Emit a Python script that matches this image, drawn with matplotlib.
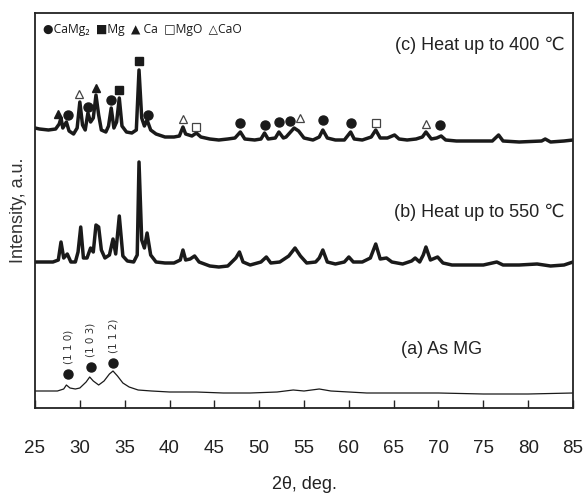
import matplotlib.pyplot as plt

# XRD patterns, 2theta (deg) vs intensity (a.u.), each pattern relative to its own baseline
two_theta_a = [25.0, 26.5, 27.5, 28.2, 28.5, 28.9, 29.5, 30.0, 30.7, 31.1, 31.5, 32.1, 32.7, 33.3,
               33.7, 34.2, 34.8, 35.5, 36.5, 38.0, 40.0, 43.0, 46.0, 49.0, 52.0, 53.8, 55.0, 56.7,
               58.0, 60.0, 62.0, 66.0, 70.0, 75.0, 80.0, 85.0]
intensity_a = [2, 2, 2, 4, 8, 5, 4, 5, 11, 16, 12, 8, 12, 19,
               22, 17, 10, 6, 3, 2, 1, 1, 0, 0, 1, 3, 2, 4,
               2, 1, 0, 0, 0, -1, -1, 0]

two_theta_b = [25.0, 26.0, 27.0, 27.6, 27.9, 28.2, 28.6, 29.0, 29.5, 29.8, 30.1, 30.4, 30.8, 31.2,
               31.5, 31.8, 32.1, 32.4, 32.8, 33.3, 33.7, 34.0, 34.4, 34.8, 35.3, 36.0, 36.4, 36.6,
               36.9, 37.2, 37.5, 37.9, 38.5, 39.5, 40.5, 41.2, 41.5, 41.8, 42.3, 42.8, 43.3, 44.5,
               45.5, 46.5, 47.4, 47.8, 48.2, 49.0, 50.2, 50.8, 51.3, 52.3, 53.3, 54.0, 54.6, 55.3,
               56.3, 56.7, 57.1, 57.6, 58.5, 59.5, 60.0, 60.5, 61.5, 62.4, 63.0, 63.5, 64.2, 64.8,
               66.0, 67.0, 67.4, 67.9, 68.3, 68.6, 69.1, 69.9, 70.5, 71.5, 73.0, 75.0, 76.5, 77.2,
               79.0, 81.0, 82.5, 84.0, 85.0]
intensity_b = [3, 3, 3, 5, 23, 7, 11, 3, 3, 13, 38, 7, 7, 17,
               13, 40, 38, 15, 7, 10, 26, 11, 49, 9, 4, 3, 10, 103,
               25, 17, 32, 10, 3, 2, 2, 5, 15, 5, 6, 9, 3, -1,
               -2, -1, 7, 13, 3, 0, 3, 8, 2, 3, 9, 17, 9, 2,
               3, 7, 15, 3, 1, 3, 8, 3, 3, 7, 21, 6, 7, 3,
               1, 4, 7, 3, 10, 18, 5, 8, 2, 0, 0, 0, 3, 0,
               0, 1, -1, 0, 3]

two_theta_c = [25.0, 25.5, 26.5, 27.3, 27.7, 27.9, 28.1, 28.5, 28.8, 29.3, 29.7, 30.0, 30.3, 30.6,
               30.9, 31.2, 31.5, 31.8, 32.1, 32.4, 32.9, 33.2, 33.5, 33.8, 34.1, 34.4, 34.7, 35.2,
               35.8, 36.3, 36.6, 36.9, 37.2, 37.5, 37.9, 38.5, 39.5, 40.5, 41.1, 41.5, 41.8, 42.5,
               43.0, 43.5, 44.5, 45.5, 46.5, 47.3, 47.9, 48.4, 49.5, 50.2, 50.6, 51.0, 51.8, 52.2,
               52.7, 53.0, 53.4, 53.9, 54.4, 55.0, 56.0, 56.7, 57.1, 57.6, 58.5, 59.5, 60.2, 60.6,
               61.5, 62.5, 63.0, 63.5, 64.3, 65.1, 65.6, 66.5, 67.5, 68.2, 68.6, 69.2, 69.8, 70.3,
               70.8, 72.0, 74.0, 76.0, 76.7, 77.2, 79.0, 81.5, 81.9, 82.5, 84.0, 85.0]
intensity_c = [14, 13, 12, 13, 18, 24, 14, 20, 11, 8, 14, 40, 17, 12,
               29, 20, 24, 47, 27, 12, 10, 16, 34, 14, 20, 44, 16, 10,
               9, 12, 72, 24, 16, 22, 12, 8, 5, 5, 6, 15, 8, 6,
               9, 5, 3, 2, 3, 4, 10, 3, 2, 3, 9, 3, 4, 10,
               4, 5, 9, 14, 11, 4, 2, 5, 12, 4, 2, 2, 10, 3,
               2, 5, 12, 4, 4, 7, 3, 2, 3, 5, 10, 3, 4, 6,
               2, 1, 1, 1, 7, 1, 0, 1, 3, 0, 1, 2]

# phase identification marks on pattern (c): peak position and mark height
camg2_pos = [28.7, 30.9, 33.5, 37.6, 47.9, 50.7, 52.2, 53.4, 57.1, 60.2, 70.2]
camg2_h = [27, 35, 42, 27, 19, 17, 20, 21, 22, 19, 17]
mg_pos = [34.4, 36.6]
mg_h = [52, 81]
ca_pos = [27.6, 31.8]
ca_h = [28, 54]
mgo_pos = [43.0, 63.0]
mgo_h = [15, 19]
cao_pos = [29.9, 41.5, 54.5, 68.6]
cao_h = [48, 23, 24, 18]

# CaMg2 reflections marked on the as-milled pattern (a)
hkl_pos = [28.7, 31.2, 33.7]
hkl_h = [19, 26, 30]
hkl_labels = ['(1 1 0)', '(1 0 3)', '(1 1 2)']

x_ticks = [25, 30, 35, 40, 45, 50, 55, 60, 65, 70, 75, 80, 85]

# vertical stacking of the three patterns
offset_a = 15
offset_b = 143
offset_c = 266

ink = '#1a1a1a'
label_font = ['Liberation Sans', 'DejaVu Sans']

fig = plt.figure(figsize=(5.87, 4.94), dpi=100)
ax = fig.add_axes([35 / 587, 86 / 494, 538 / 587, 395 / 494])

ax.plot(two_theta_a, [v + offset_a for v in intensity_a], color=ink, lw=0.9)
ax.plot(two_theta_b, [v + offset_b for v in intensity_b], color=ink, lw=2.5)
ax.plot(two_theta_c, [v + offset_c for v in intensity_c], color=ink, lw=2.5)

ms = 6.5
ax.plot(camg2_pos, [h + offset_c for h in camg2_h], 'o', color=ink, ms=ms)
ax.plot(mg_pos, [h + offset_c for h in mg_h], 's', color=ink, ms=ms - 1)
ax.plot(ca_pos, [h + offset_c for h in ca_h], '^', color=ink, ms=ms - 0.5)
ax.plot(mgo_pos, [h + offset_c for h in mgo_h], 's', mfc='white', mec='#444444', mew=0.9, ms=ms - 1)
ax.plot(cao_pos, [h + offset_c for h in cao_h], '^', mfc='white', mec='#444444', mew=0.9, ms=ms - 0.5)

ax.plot(hkl_pos, [h + offset_a for h in hkl_h], 'o', color=ink, ms=ms)
for pos, h, lab in zip(hkl_pos, hkl_h, hkl_labels):
    ax.annotate(lab, (pos, h + offset_a), xytext=(0, 7), textcoords='offset points',
                rotation=90, ha='center', va='bottom', fontsize=7.5, color='#333333',
                family='DejaVu Sans')

# phase key written across the top
ax.text(0.015, 0.957, '●CaMg₂  ■Mg  ▲ Ca  □MgO  △CaO', transform=ax.transAxes,
        fontsize=8.7, color=ink, va='center', ha='left', family=['Open Sans', 'DejaVu Sans'])

ax.text(0.985, 0.919, '(c) Heat up to 400 ℃', transform=ax.transAxes, ha='right', va='center',
        fontsize=13, color='#222222', family=label_font)
ax.text(0.985, 0.496, '(b) Heat up to 550 ℃', transform=ax.transAxes, ha='right', va='center',
        fontsize=13, color='#222222', family=label_font)
ax.text(0.755, 0.147, '(a) As MG', transform=ax.transAxes, ha='center', va='center',
        fontsize=13, color='#222222', family=label_font)

ax.set_xlim(25, 85)
ax.set_ylim(0, 395)
ax.set_xticks(x_ticks)
ax.set_yticks([])
ax.tick_params(axis='x', direction='in', length=6, width=1, pad=23, labelsize=13.5,
               colors='#222222')
for t in ax.get_xticklabels():
    t.set_family(label_font)
for s in ax.spines.values():
    s.set_linewidth(1.3)
    s.set_color('#222222')

ax.set_xlabel('2θ, deg.', fontsize=13, family=label_font, color='#222222', labelpad=14)
ax.set_ylabel('Intensity, a.u.', fontsize=13, family=label_font, color='#333333', labelpad=6)

fig.savefig('out.png', dpi=100)
